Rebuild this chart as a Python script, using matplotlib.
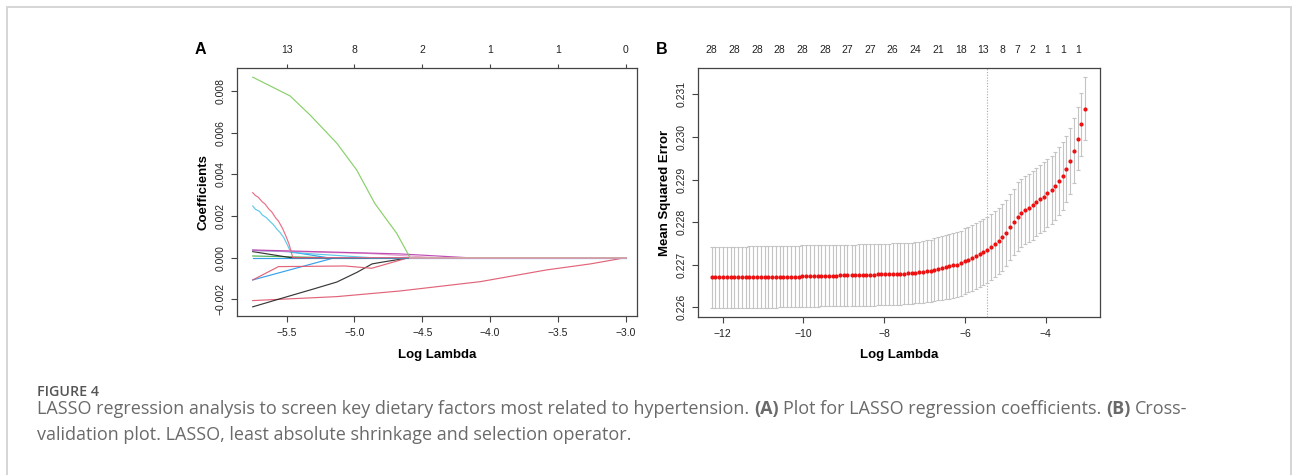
import matplotlib
matplotlib.use("Agg")
import matplotlib.pyplot as plt
from matplotlib.patches import Rectangle

# ---------------- data: panel A (coefficient paths) ----------------
coef_ticks_top_x = [-5.5, -5.0, -4.5, -4.0, -3.5, -3.0]
coef_ticks_top_labels = ["13", "8", "2", "1", "1", "0"]

green_x = [-5.75, -5.475, -5.328, -5.13, -4.984, -4.85, -4.689, -4.59, -3.0]
green_y = [0.00866, 0.00776, 0.00685, 0.00549, 0.00421, 0.0026, 0.00117, 0.0, 0.0]

red_top_x = [-5.75, -5.73, -5.71, -5.68, -5.66, -5.63, -5.61, -5.58, -5.56, -5.53, -5.50, -5.48, -5.455, -3.0]
red_top_y = [0.00312, 0.00298, 0.00290, 0.00268, 0.00258, 0.00232, 0.00220, 0.00190, 0.00175, 0.00140, 0.00095, 0.00060, 0.0, 0.0]

cyan_top_x = [-5.75, -5.73, -5.70, -5.68, -5.65, -5.62, -5.60, -5.57, -5.55, -5.52, -5.49, -5.47, -4.88, -3.0]
cyan_top_y = [0.00248, 0.00232, 0.00222, 0.00205, 0.00192, 0.00172, 0.00160, 0.00135, 0.00122, 0.00095, 0.00055, 0.00025, 0.0, 0.0]

magenta_x = [-5.75, -4.665, -4.17, -3.0]
magenta_y = [0.00037, 0.00018, 0.0, 0.0]

pink_mid_x = [-5.75, -4.90, -4.40, -3.0]
pink_mid_y = [0.00034, 0.00020, 0.0, 0.0]

blue_top_x = [-5.75, -5.47, -5.20, -3.0]
blue_top_y = [0.00035, 0.00028, 0.0, 0.0]

black_top_x = [-5.75, -5.47, -3.0]
black_top_y = [0.00029, 0.0, 0.0]

green_flat_x = [-5.75, -5.47, -5.20, -3.0]
green_flat_y = [0.00008, 0.00004, 0.0, 0.0]

blue_flat_x = [-5.75, -3.0]
blue_flat_y = [0.0, 0.0]

red_mid_x = [-5.75, -5.56, -5.07, -4.873, -4.60, -3.0]
red_mid_y = [-0.00107, -0.00043, -0.00040, -0.00051, 0.0, 0.0]

blue_low_x = [-5.75, -5.144, -3.0]
blue_low_y = [-0.00107, 0.0, 0.0]

black_low_x = [-5.75, -5.5, -5.3, -5.13, -4.98, -4.87, -4.80, -4.59, -3.0]
black_low_y = [-0.00236, -0.00188, -0.00150, -0.00117, -0.00070, -0.00030, -0.00022, 0.0, 0.0]

red_low_x = [-5.75, -5.13, -4.665, -4.07, -3.585, -3.26, -3.0]
red_low_y = [-0.00206, -0.00187, -0.00160, -0.00115, -0.00059, -0.00030, 0.0]

# ---------------- data: panel B (cross-validation) ----------------
log_lambda = [
    -12.27, -12.18, -12.08, -11.99, -11.90, -11.80, -11.71, -11.62, -11.52, -11.43,
    -11.34, -11.24, -11.15, -11.06, -10.96, -10.87, -10.78, -10.68, -10.59, -10.50,
    -10.40, -10.31, -10.22, -10.12, -10.03, -9.94, -9.84, -9.75, -9.65, -9.56,
    -9.47, -9.37, -9.28, -9.19, -9.09, -9.00, -8.91, -8.81, -8.72, -8.63,
    -8.53, -8.44, -8.35, -8.25, -8.16, -8.07, -7.97, -7.88, -7.79, -7.69,
    -7.60, -7.51, -7.41, -7.32, -7.23, -7.13, -7.04, -6.95, -6.85, -6.76,
    -6.66, -6.57, -6.48, -6.39, -6.29, -6.20, -6.11, -6.01, -5.92, -5.83,
    -5.73, -5.64, -5.55, -5.45, -5.36, -5.27, -5.17, -5.08, -4.98, -4.89,
    -4.80, -4.70, -4.61, -4.52, -4.42, -4.33, -4.24, -4.14, -4.05, -3.96,
    -3.86, -3.77, -3.68, -3.58, -3.49, -3.40, -3.30, -3.21, -3.12, -3.02,
]
mse = [
    0.22670, 0.22670, 0.22670, 0.22670, 0.22670, 0.22670, 0.22670, 0.22670, 0.22670, 0.22670,
    0.22671, 0.22671, 0.22671, 0.22671, 0.22671, 0.22671, 0.22671, 0.22671, 0.22672, 0.22672,
    0.22672, 0.22672, 0.22672, 0.22672, 0.22673, 0.22673, 0.22673, 0.22673, 0.22673, 0.22674,
    0.22674, 0.22674, 0.22674, 0.22674, 0.22675, 0.22675, 0.22675, 0.22675, 0.22675, 0.22676,
    0.22676, 0.22676, 0.22676, 0.22676, 0.22677, 0.22677, 0.22677, 0.22677, 0.22678, 0.22678,
    0.22678, 0.22679, 0.22680, 0.22680, 0.22681, 0.22682, 0.22683, 0.22685, 0.22686, 0.22688,
    0.22690, 0.22692, 0.22694, 0.22696, 0.22698, 0.22700, 0.22703, 0.22708, 0.22712, 0.22716,
    0.22720, 0.22725, 0.22730, 0.22735, 0.22741, 0.22748, 0.22756, 0.22764, 0.22775, 0.22789,
    0.22800, 0.22813, 0.22821, 0.22828, 0.22834, 0.22839, 0.22848, 0.22855, 0.22860, 0.22868,
    0.22875, 0.22885, 0.22896, 0.22909, 0.22925, 0.22944, 0.22968, 0.22996, 0.23030, 0.23066,
]
mse_sd = [
    0.00072, 0.00072, 0.00072, 0.00072, 0.00072, 0.00072, 0.00072, 0.00072, 0.00072, 0.00072,
    0.00072, 0.00072, 0.00072, 0.00072, 0.00072, 0.00072, 0.00072, 0.00072, 0.00072, 0.00072,
    0.00072, 0.00072, 0.00072, 0.00072, 0.00072, 0.00072, 0.00072, 0.00072, 0.00072, 0.00072,
    0.00072, 0.00072, 0.00072, 0.00072, 0.00072, 0.00072, 0.00072, 0.00072, 0.00072, 0.00072,
    0.00072, 0.00072, 0.00072, 0.00072, 0.00072, 0.00072, 0.00072, 0.00072, 0.00072, 0.00072,
    0.00072, 0.00072, 0.00072, 0.00072, 0.00072, 0.00072, 0.00072, 0.00073, 0.00073, 0.00074,
    0.00074, 0.00075, 0.00075, 0.00076, 0.00076, 0.00077, 0.00077, 0.00077, 0.00077, 0.00077,
    0.00077, 0.00077, 0.00077, 0.00077, 0.00077, 0.00077, 0.00078, 0.00078, 0.00078, 0.00078,
    0.00078, 0.00080, 0.00080, 0.00080, 0.00080, 0.00080, 0.00080, 0.00080, 0.00080, 0.00080,
    0.00080, 0.00080, 0.00080, 0.00080, 0.00077, 0.00077, 0.00077, 0.00074, 0.00074, 0.00074,
]
nzero_idx = [0, 6, 12, 18, 24, 30, 36, 42, 48, 54, 60, 66, 72, 77, 81, 85, 89, 93, 97]
nzero_labels = ["28", "28", "28", "28", "28", "28", "27", "27", "26", "24",
                "21", "18", "13", "8", "7", "2", "1", "1", "1"]
lambda_line = -5.45

caption_title = "FIGURE 4"
caption_line1 = [("LASSO regression analysis to screen key dietary factors most related to hypertension.", False),
                 ("(A)", True), ("Plot for LASSO regression coefficients.", False),
                 ("(B)", True), ("Cross-", False)]
caption_line2 = [("validation plot. LASSO, least absolute shrinkage and selection operator.", False)]

# ---------------- figure ----------------
W, H, DPI = 1292, 475, 100
plt.rcParams["font.family"] = ["Liberation Sans", "DejaVu Sans"]
fig = plt.figure(figsize=(W / DPI, H / DPI), dpi=DPI)
fig.patch.set_facecolor("white")


def rect(x0, y0, x1, y1):
    return [x0 / W, 1 - y1 / H, (x1 - x0) / W, (y1 - y0) / H]


# outer border
fig.patches.append(Rectangle((6.5 / W, -0.2), (1291 - 6.5) / W, 1.2 - 6.5 / H,
                             transform=fig.transFigure, fill=False,
                             edgecolor="#d2d2d2", lw=1.3))

SPINE = "#444444"
TICK_FS = 7.5
LAB_FS = 9.5


def style_axes(ax):
    for s in ax.spines.values():
        s.set_color(SPINE)
        s.set_linewidth(0.9)
    ax.tick_params(direction="out", length=4, width=0.8, colors=SPINE,
                   labelsize=TICK_FS, labelcolor="#222222", pad=4.5)


# ---------- Panel A ----------
axA = fig.add_axes(rect(237, 68, 637, 316))
paths = [
    (red_low_x, red_low_y, "#DF536B"),
    (black_low_x, black_low_y, "#222222"),
    (blue_low_x, blue_low_y, "#2297E6"),
    (red_mid_x, red_mid_y, "#DF536B"),
    (blue_flat_x, blue_flat_y, "#2297E6"),
    (green_flat_x, green_flat_y, "#3DA83D"),
    (black_top_x, black_top_y, "#222222"),
    (blue_top_x, blue_top_y, "#2297E6"),
    (pink_mid_x, pink_mid_y, "#E49AC8"),
    (magenta_x, magenta_y, "#B93BAE"),
    (cyan_top_x, cyan_top_y, "#4CC3E6"),
    (red_top_x, red_top_y, "#E8607A"),
    (green_x, green_y, "#7CCB5A"),
]
for xs, ys, c in paths:
    axA.plot(xs, ys, color=c, lw=0.85, alpha=0.9, solid_joinstyle="round")
# the zero segment where the last paths overlap (light pink in the original)
axA.plot(red_low_x[-1:] + [-4.59], [0.0, 0.0], color="#E8A0B8", lw=1.4, alpha=0.8)

axA.set_xlim(-5.866, -2.917)
axA.set_ylim(-0.0028, 0.0091)
axA.set_xticks([-5.5, -5.0, -4.5, -4.0, -3.5, -3.0])
axA.set_xticklabels(["\u22125.5", "\u22125.0", "\u22124.5", "\u22124.0", "\u22123.5", "\u22123.0"])
axA.set_yticks([-0.002, 0.0, 0.002, 0.004, 0.006, 0.008])
axA.set_yticklabels(["\u22120.002", "0.000", "0.002", "0.004", "0.006", "0.008"],
                    rotation=90, va="center")
style_axes(axA)
axA.set_xlabel("Log Lambda", fontsize=LAB_FS, fontweight="bold", labelpad=8)
axA.set_ylabel("Coefficients", fontsize=LAB_FS, fontweight="bold", labelpad=4)
secA = axA.secondary_xaxis("top")
secA.set_xticks(coef_ticks_top_x)
secA.set_xticklabels(coef_ticks_top_labels)
secA.tick_params(direction="out", length=3, width=0.8, colors=SPINE,
                 labelsize=TICK_FS, labelcolor="#222222", pad=6)
secA.spines["top"].set_visible(False)

# ---------- Panel B ----------
axB = fig.add_axes(rect(698, 68, 1100, 317))
axB.axvline(lambda_line, color="#aaaaaa", lw=0.8, ls=(0, (1, 1.5)))
axB.errorbar(log_lambda, mse, yerr=mse_sd, fmt="none", ecolor="#c4c4c4",
             elinewidth=0.8, capsize=1.6, capthick=0.8)
axB.plot(log_lambda, mse, "o", color="#ee1111", ms=3.0, mec="none")
axB.set_xlim(-12.61, -2.66)
axB.set_ylim(0.22577, 0.23162)
axB.set_xticks([-12, -10, -8, -6, -4])
axB.set_xticklabels(["\u221212", "\u221210", "\u22128", "\u22126", "\u22124"])
axB.set_yticks([0.226, 0.227, 0.228, 0.229, 0.230, 0.231])
axB.set_yticklabels(["0.226", "0.227", "0.228", "0.229", "0.230", "0.231"],
                    rotation=90, va="center")
style_axes(axB)
axB.set_xlabel("Log Lambda", fontsize=LAB_FS, fontweight="bold", labelpad=7)
axB.set_ylabel("Mean Squared Error", fontsize=LAB_FS, fontweight="bold", labelpad=4)
secB = axB.secondary_xaxis("top")
secB.set_xticks([log_lambda[i] for i in nzero_idx])
secB.set_xticklabels(nzero_labels)
secB.tick_params(length=0, labelsize=TICK_FS, labelcolor="#222222", pad=9)
secB.spines["top"].set_visible(False)

# panel letters
fig.text(200 / W, 1 - 50 / H, "A", fontsize=11.5, fontweight="bold", va="center", ha="center")
fig.text(662 / W, 1 - 50 / H, "B", fontsize=11.5, fontweight="bold", va="center", ha="center")

# ---------- caption ----------
CAP_FONT = ["Open Sans", "DejaVu Sans"]
fig.text(37 / W, 1 - 396.5 / H, caption_title, fontsize=10.3, fontweight="semibold",
         color="#555555", family=CAP_FONT, va="baseline", ha="left")

renderer = fig.canvas.get_renderer()


def rich_line(x_px, y_px, parts, size, color):
    probe = fig.text(0, 0, "a a", fontsize=size, family=CAP_FONT)
    probe2 = fig.text(0, 0, "aa", fontsize=size, family=CAP_FONT)
    space = probe.get_window_extent(renderer).width - probe2.get_window_extent(renderer).width
    probe.remove()
    probe2.remove()
    x = x_px
    for k, (s, bold) in enumerate(parts):
        if k > 0:
            x += space
        t = fig.text(x / W, 1 - y_px / H, s, fontsize=size, color=color,
                     fontweight="bold" if bold else "normal", family=CAP_FONT,
                     va="baseline", ha="left")
        x += t.get_window_extent(renderer).width
    return x


CAP_FS = 13.0
rich_line(37, 413.8, caption_line1, CAP_FS, "#6a6a6a")
rich_line(37, 439.8, caption_line2, CAP_FS, "#6a6a6a")

fig.savefig("out.png", dpi=DPI, facecolor="white")
